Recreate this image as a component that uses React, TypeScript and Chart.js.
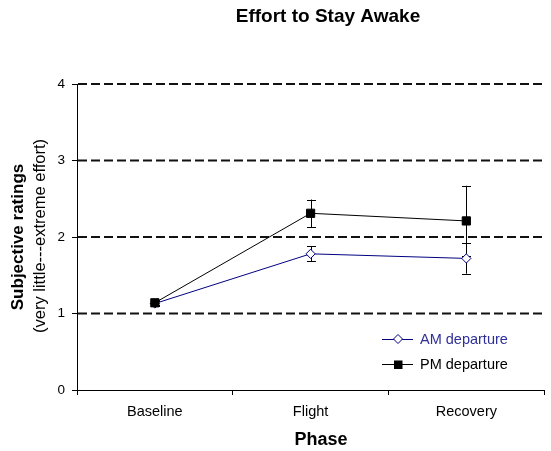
import React, { useEffect, useRef } from "react";
import { Chart, registerables } from "chart.js";

Chart.register(...registerables);

const categories = ["Baseline", "Flight", "Recovery"];
const amValues = [1.13, 1.78, 1.72];
const amErrors = [0.03, 0.1, 0.2];
const pmValues = [1.14, 2.31, 2.21];
const pmErrors = [0.03, 0.18, 0.46];
const dashedLevels = [1, 2, 3, 4];
const seriesNames = ["AM departure", "PM departure"];
const titleText = "Effort to Stay Awake";
const xTitleText = "Phase";
const yTitleMain = "Subjective ratings";
const yTitleSub = "(very little---extreme effort)";

const FONT = "'Liberation Sans', Arial, Helvetica, sans-serif";
const NAVY = "#000080";
const NAVY_TEXT = "#2f2f9a";

const decorPlugin = {
  id: "decor",
  beforeDatasetsDraw(chart: any) {
    const { ctx, chartArea, scales } = chart;
    const y = scales.y;
    ctx.save();
    ctx.strokeStyle = "#111";
    ctx.lineWidth = 2;
    ctx.setLineDash([9, 4]);
    dashedLevels.forEach((v) => {
      const py = y.getPixelForValue(v);
      ctx.beginPath();
      ctx.moveTo(chartArea.left + 1, py);
      ctx.lineTo(chartArea.right, py);
      ctx.stroke();
    });
    ctx.setLineDash([]);
    const errs = [amErrors, pmErrors];
    const vals = [amValues, pmValues];
    ctx.strokeStyle = "#000";
    ctx.lineWidth = 1;
    [0, 1].forEach((di) => {
      const meta = chart.getDatasetMeta(di);
      meta.data.forEach((pt: any, i: number) => {
        const x = Math.round(pt.x) + 0.5;
        const top = y.getPixelForValue(vals[di][i] + errs[di][i]);
        const bot = y.getPixelForValue(vals[di][i] - errs[di][i]);
        ctx.beginPath();
        ctx.moveTo(x, top);
        ctx.lineTo(x, bot);
        ctx.moveTo(x - 4.5, Math.round(top) + 0.5);
        ctx.lineTo(x + 4.5, Math.round(top) + 0.5);
        ctx.moveTo(x - 4.5, Math.round(bot) + 0.5);
        ctx.lineTo(x + 4.5, Math.round(bot) + 0.5);
        ctx.stroke();
      });
    });
    ctx.restore();
  },
  afterDraw(chart: any) {
    const { ctx } = chart;
    ctx.save();
    ctx.fillStyle = "#000";
    ctx.textAlign = "center";
    ctx.textBaseline = "middle";
    ctx.font = `bold 19px ${FONT}`;
    ctx.fillText(titleText, 328, 17);
    ctx.font = `bold 18px ${FONT}`;
    ctx.fillText(xTitleText, 321, 440);

    ctx.save();
    ctx.translate(18, 237);
    ctx.rotate(-Math.PI / 2);
    ctx.font = `bold 17px ${FONT}`;
    ctx.fillText(yTitleMain, 0, 0);
    ctx.restore();
    ctx.save();
    ctx.translate(40, 236);
    ctx.rotate(-Math.PI / 2);
    ctx.font = `16.5px ${FONT}`;
    ctx.fillText(yTitleSub, 0, 0);
    ctx.restore();

    const rows = [
      { y: 339, color: NAVY, text: NAVY_TEXT, style: "diamond" },
      { y: 364, color: "#000", text: "#000", style: "square" },
    ];
    rows.forEach((r, i) => {
      ctx.strokeStyle = r.color;
      ctx.lineWidth = 1;
      ctx.beginPath();
      ctx.moveTo(382, r.y + 0.5);
      ctx.lineTo(413, r.y + 0.5);
      ctx.stroke();
      const cx = 398;
      if (r.style === "diamond") {
        ctx.fillStyle = "#fff";
        ctx.beginPath();
        ctx.moveTo(cx, r.y - 4.5);
        ctx.lineTo(cx + 4.5, r.y);
        ctx.lineTo(cx, r.y + 4.5);
        ctx.lineTo(cx - 4.5, r.y);
        ctx.closePath();
        ctx.fill();
        ctx.stroke();
      } else {
        ctx.fillStyle = "#000";
        ctx.fillRect(cx - 4, r.y - 3.5, 8.5, 8.5);
      }
      ctx.fillStyle = r.text;
      ctx.textAlign = "left";
      ctx.font = `14.5px ${FONT}`;
      ctx.fillText(seriesNames[i], 420, r.y + 1);
    });
    ctx.restore();
  },
};

export default function App() {
  const ref = useRef<HTMLCanvasElement | null>(null);
  useEffect(() => {
    document.body.style.margin = "0";
    const canvas = ref.current;
    if (!canvas) return;
    const chart = new Chart(canvas, {
      type: "line",
      data: {
        labels: categories,
        datasets: [
          {
            label: seriesNames[0],
            data: amValues,
            borderColor: NAVY,
            borderWidth: 1,
            pointStyle: "rectRot",
            pointRadius: 4.6,
            pointBackgroundColor: "#fff",
            pointBorderColor: NAVY,
            pointBorderWidth: 1,
            tension: 0,
            fill: false,
            order: 1,
          },
          {
            label: seriesNames[1],
            data: pmValues,
            borderColor: "#000",
            borderWidth: 1,
            pointStyle: "rect",
            pointRadius: 5.8,
            pointBackgroundColor: "#000",
            pointBorderColor: "#000",
            pointBorderWidth: 1,
            tension: 0,
            fill: false,
            order: 0,
          },
        ],
      },
      options: {
        animation: false,
        responsive: false,
        devicePixelRatio: 1,
        layout: { padding: { top: 84, right: 1, left: 0, bottom: 0 } },
        plugins: {
          legend: { display: false },
          title: { display: false },
          tooltip: { enabled: false },
        },
        scales: {
          x: {
            type: "category",
            offset: true,
            grid: {
              offset: true,
              drawOnChartArea: false,
              drawTicks: true,
              tickLength: 5,
              color: "#000",
            },
            border: { color: "#000", width: 1 },
            ticks: {
              color: "#000",
              font: { family: FONT, size: 14.5 },
              padding: 8,
              maxRotation: 0,
            },
            afterFit: (s: any) => {
              s.height = 61;
            },
          },
          y: {
            min: 0,
            max: 4,
            ticks: {
              stepSize: 1,
              color: "#000",
              font: { family: FONT, size: 13.5 },
              padding: 7,
            },
            grid: {
              drawOnChartArea: false,
              drawTicks: true,
              tickLength: 5,
              color: "#000",
            },
            border: { color: "#000", width: 1 },
            afterFit: (s: any) => {
              s.width = 77;
            },
          },
        },
      },
      plugins: [decorPlugin],
    } as any);
    return () => chart.destroy();
  }, []);
  return (
    <div style={{ position: "fixed", left: 0, top: 0, width: 551, height: 451, background: "#fff" }}>
      <canvas ref={ref} width={551} height={451} style={{ display: "block" }} />
    </div>
  );
}
